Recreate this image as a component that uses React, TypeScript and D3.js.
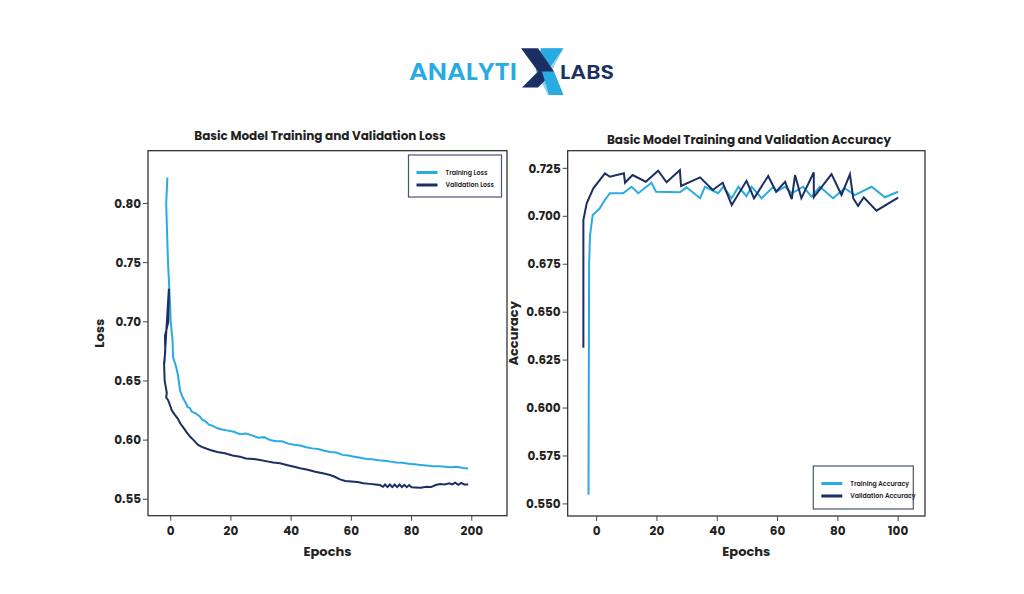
import { line, scaleLinear, format } from "d3";

// loss panel (x positions are epochs on the drawn axis, last tick reads "200")
const lossTickValues = [0, 20, 40, 60, 80, 100];
const lossTickLabels = ["0", "20", "40", "60", "80", "200"];
const lossYTicks = [0.55, 0.6, 0.65, 0.7, 0.75, 0.8];

const trainLossEpochs = [
  -1.1, -1.5, -1.2, -0.9, -0.6, -0.2, 0, 0.6, 0.8, 1.8, 2.4, 3.1, 4, 5.1, 5.6, 6.4, 7, 8, 9.7, 10.5, 11.5,
  12.7, 14, 15.5, 17, 19, 21, 23, 25, 27, 29, 31, 33, 35, 37, 39, 41, 43, 45, 47, 49, 51, 53, 55, 57,
  59, 61, 63, 65, 67, 69, 71, 73, 75, 77, 79, 81, 83, 85, 87, 89, 91, 93, 95, 97, 98.8,
];
const trainLoss = [
  0.822, 0.8, 0.775, 0.75, 0.735, 0.715, 0.7, 0.685, 0.67, 0.662, 0.655, 0.642, 0.636, 0.631, 0.628,
  0.627, 0.624, 0.623, 0.62, 0.617, 0.616, 0.613, 0.612, 0.61, 0.609, 0.608, 0.607, 0.605, 0.6055,
  0.604, 0.602, 0.6025, 0.6, 0.599, 0.599, 0.597, 0.596, 0.5955, 0.594, 0.593, 0.5925, 0.591, 0.59,
  0.5895, 0.5875, 0.587, 0.586, 0.585, 0.584, 0.5838, 0.583, 0.5825, 0.5818, 0.581, 0.5808, 0.58,
  0.5795, 0.579, 0.5785, 0.578, 0.578, 0.5775, 0.577, 0.5775, 0.5765, 0.576,
];

const valLossEpochs = [
  -2.1, -1.5, -0.6, -0.8, -1.9, -1.8, -2.2, -2, -1.3, -1.5, -0.9, -0.3, 0.4, 1.2, 2.4, 3.2, 4.1, 5.2,
  6.4, 7.6, 9.1, 10.5, 13.1, 15.5, 18, 20.5, 23, 25, 27.5, 29.7, 32, 34, 36.3, 38.5, 41, 43, 45.5, 48,
  50.5, 52.9, 54.5, 56.2, 58, 60, 62, 64, 66, 68, 69.5, 70.5, 71.2, 72, 72.8, 73.6, 74.4, 75.2, 76,
  76.8, 77.6, 78.4, 79.2, 80, 81.2, 83, 85, 86.5, 88, 89.5, 91, 92.5, 93.5, 94.5, 95.5, 96.5, 97.5, 98.8,
];
const valLoss = [
  0.665, 0.69, 0.728, 0.7, 0.688, 0.675, 0.665, 0.65, 0.64, 0.636, 0.634, 0.63, 0.625, 0.622, 0.618,
  0.614, 0.611, 0.607, 0.603, 0.6, 0.596, 0.594, 0.5916, 0.59, 0.5889, 0.587, 0.586, 0.5845, 0.584,
  0.5832, 0.582, 0.581, 0.5804, 0.579, 0.5775, 0.5762, 0.575, 0.5733, 0.572, 0.5705, 0.569, 0.5668,
  0.5655, 0.565, 0.5645, 0.5635, 0.563, 0.5625, 0.562, 0.5605, 0.5625, 0.5603, 0.5625, 0.5603, 0.5625,
  0.5603, 0.5625, 0.5603, 0.5622, 0.5602, 0.562, 0.5602, 0.56, 0.5598, 0.5605, 0.5603, 0.562, 0.5628,
  0.5625, 0.5635, 0.5625, 0.564, 0.5622, 0.5638, 0.5625, 0.5625,
];

// accuracy panel
const accTickValues = [0, 20, 40, 60, 80, 100];
const accYTicks = [0.55, 0.575, 0.6, 0.625, 0.65, 0.675, 0.7, 0.725];

const trainAccEpochs = [
  -2.7, -2.5, -2.2, -1.3, 1, 2.5, 4.4, 8.8, 11.6, 13.8, 18.2, 19.7, 27.6, 29.8, 34.3, 35.9, 40.3, 42,
  44.8, 47, 49.7, 51.4, 54.7, 58.6, 59.7, 62.5, 64.7, 68.5, 71.3, 74, 78.4, 82.3, 85.6, 91.2, 95.6, 100,
];
const trainAcc = [
  0.5548, 0.675, 0.69, 0.7007, 0.704, 0.708, 0.712, 0.712, 0.7154, 0.712, 0.7175, 0.7128, 0.7125,
  0.7151, 0.7094, 0.7154, 0.712, 0.7154, 0.7094, 0.7154, 0.7105, 0.7154, 0.7094, 0.7154, 0.7128,
  0.7154, 0.712, 0.7154, 0.7102, 0.7154, 0.7094, 0.7146, 0.711, 0.7154, 0.7099, 0.7128,
];

const valAccEpochs = [
  -4.4, -4.4, -3.3, -1.1, 2.75, 4.4, 9.05, 9.4, 11.9, 16.3, 20.4, 23.2, 27.6, 28, 34.3, 38.5, 41.8,
  44.8, 49.7, 52.2, 56.9, 59.5, 62.5, 64.7, 65.8, 67.9, 72, 72.05, 77.9, 81.2, 84, 85.1, 86.7, 88.6,
  92.8, 100,
];
const valAcc = [
  0.6315, 0.698, 0.7068, 0.7146, 0.7224, 0.7206, 0.7224, 0.7175, 0.7215, 0.718, 0.7238, 0.7177,
  0.7241, 0.7158, 0.7203, 0.7137, 0.7175, 0.7059, 0.7185, 0.7094, 0.721, 0.7128, 0.718, 0.7089,
  0.7215, 0.7094, 0.7229, 0.71, 0.722, 0.7111, 0.7219, 0.7094, 0.7054, 0.7099, 0.7029, 0.7097,
];

const LIGHT = "#29abe2";
const NAVY = "#1c2f63";
const FONT = "Poppins, Inter, 'Noto Sans', sans-serif";

const Panel = ({
  box,
  xDomain,
  yDomain,
  xTicks,
  xLabels,
  yTicks,
  yFmt,
  title,
  yTitle,
  series,
  legend,
}) => {
  const x = scaleLinear().domain(xDomain).range([box.left, box.right]);
  const y = scaleLinear().domain(yDomain).range([box.bottom, box.top]);
  const path = line()
    .x((d) => x(d[0]))
    .y((d) => y(d[1]));
  const cx = (box.left + box.right) / 2;
  const cy = (box.top + box.bottom) / 2;

  return (
    <g fontFamily={FONT}>
      <text x={title.x} y={title.y} textAnchor="middle" fontSize={12} fontWeight={700} fill="#222">
        {title.text}
      </text>
      <rect
        x={box.left}
        y={box.top}
        width={box.right - box.left}
        height={box.bottom - box.top}
        fill="none"
        stroke="#222"
        strokeWidth={1.2}
      />
      {yTicks.map((t) => (
        <g key={t} transform={`translate(${box.left}, ${y(t)})`}>
          <line x2={-5} stroke="#444" />
          <text x={-7} dy=".35em" textAnchor="end" fontSize={12} fontWeight={700} fill="#222">
            {yFmt(t)}
          </text>
        </g>
      ))}
      {xTicks.map((t, i) => (
        <g key={t} transform={`translate(${x(t)}, ${box.bottom})`}>
          <line y2={5} stroke="#444" />
          <text y={19} textAnchor="middle" fontSize={12} fontWeight={700} fill="#222">
            {xLabels[i]}
          </text>
        </g>
      ))}
      <text x={cx} y={box.bottom + 40} textAnchor="middle" fontSize={13} fontWeight={700} fill="#222">
        Epochs
      </text>
      <text
        transform={`translate(${yTitle.x}, ${cy}) rotate(-90)`}
        textAnchor="middle"
        fontSize={13}
        fontWeight={700}
        fill="#222"
      >
        {yTitle.text}
      </text>
      {series.map((s) => (
        <path
          key={s.name}
          d={path(s.xs.map((v, i) => [v, s.ys[i]]))}
          fill="none"
          stroke={s.color}
          strokeWidth={2}
          strokeLinejoin="miter"
        />
      ))}
      <rect
        x={legend.x}
        y={legend.y}
        width={legend.w}
        height={legend.h}
        fill="#fff"
        stroke="#4a5572"
        strokeWidth={1.2}
      />
      {series.map((s, i) => (
        <g key={s.name} transform={`translate(${legend.x + 8}, ${legend.y + 17.5 + i * 12.5})`}>
          <line x2={21} stroke={s.color} strokeWidth={3} />
          <text x={29} dy=".35em" fontSize={6.3} fontWeight={600} fill="#222">
            {s.name}
          </text>
        </g>
      ))}
    </g>
  );
};

const Logo = () => (
  <g fontFamily={FONT}>
    <text x={409} y={79.5} fontSize={25} fontWeight={600} fill={LIGHT} textLength={108} lengthAdjust="spacingAndGlyphs">
      ANALYTI
    </text>
    <polygon points="541,48.3 563.5,48.3 551,71.5 563.5,95 548,95 536,71.5" fill="#8fd3f2" />
    <polygon points="541,48.3 563.5,48.3 547,71.5 536,71.5" fill={LIGHT} />
    <polygon points="521,48.3 538,48.3 554,71.5 538,87.5 522,87.5 538,71.5" fill={NAVY} />
    <polygon points="542,71.5 554,71.5 563.5,95 549,95" fill={LIGHT} />
    <text x={560} y={78.5} fontSize={19} fontWeight={600} fill={NAVY} textLength={54} lengthAdjust="spacingAndGlyphs">
      LABS
    </text>
  </g>
);

export default function App() {
  return (
    <svg
      width={1024}
      height={594}
      style={{ position: "absolute", left: 0, top: 0, background: "#fff" }}
    >
      <rect width={1024} height={594} fill="#fff" />
      <Logo />
      <Panel
        box={{ left: 148, right: 507, top: 150.7, bottom: 515.7 }}
        xDomain={[-7.54, 111.7]}
        yDomain={[0.5361, 0.8446]}
        xTicks={lossTickValues}
        xLabels={lossTickLabels}
        yTicks={lossYTicks}
        yFmt={format(".2f")}
        title={{ x: 320, y: 140, text: "Basic Model Training and Validation Loss" }}
        yTitle={{ x: 104, text: "Loss" }}
        series={[
          { name: "Training Loss", color: LIGHT, xs: trainLossEpochs, ys: trainLoss },
          { name: "Validation Loss", color: NAVY, xs: valLossEpochs, ys: valLoss },
        ]}
        legend={{ x: 408.5, y: 155, w: 93, h: 42 }}
      />
      <Panel
        box={{ left: 567.7, right: 925, top: 150.7, bottom: 516 }}
        xDomain={[-9.6, 108.9]}
        yDomain={[0.5437, 0.7342]}
        xTicks={accTickValues}
        xLabels={accTickValues.map(String)}
        yTicks={accYTicks}
        yFmt={format(".3f")}
        title={{ x: 749, y: 144, text: "Basic Model Training and Validation Accuracy" }}
        yTitle={{ x: 518, text: "Accuracy" }}
        series={[
          { name: "Training Accuracy", color: LIGHT, xs: trainAccEpochs, ys: trainAcc },
          { name: "Validation Accuracy", color: NAVY, xs: valAccEpochs, ys: valAcc },
        ]}
        legend={{ x: 813.3, y: 466, w: 100, h: 43 }}
      />
    </svg>
  );
}
